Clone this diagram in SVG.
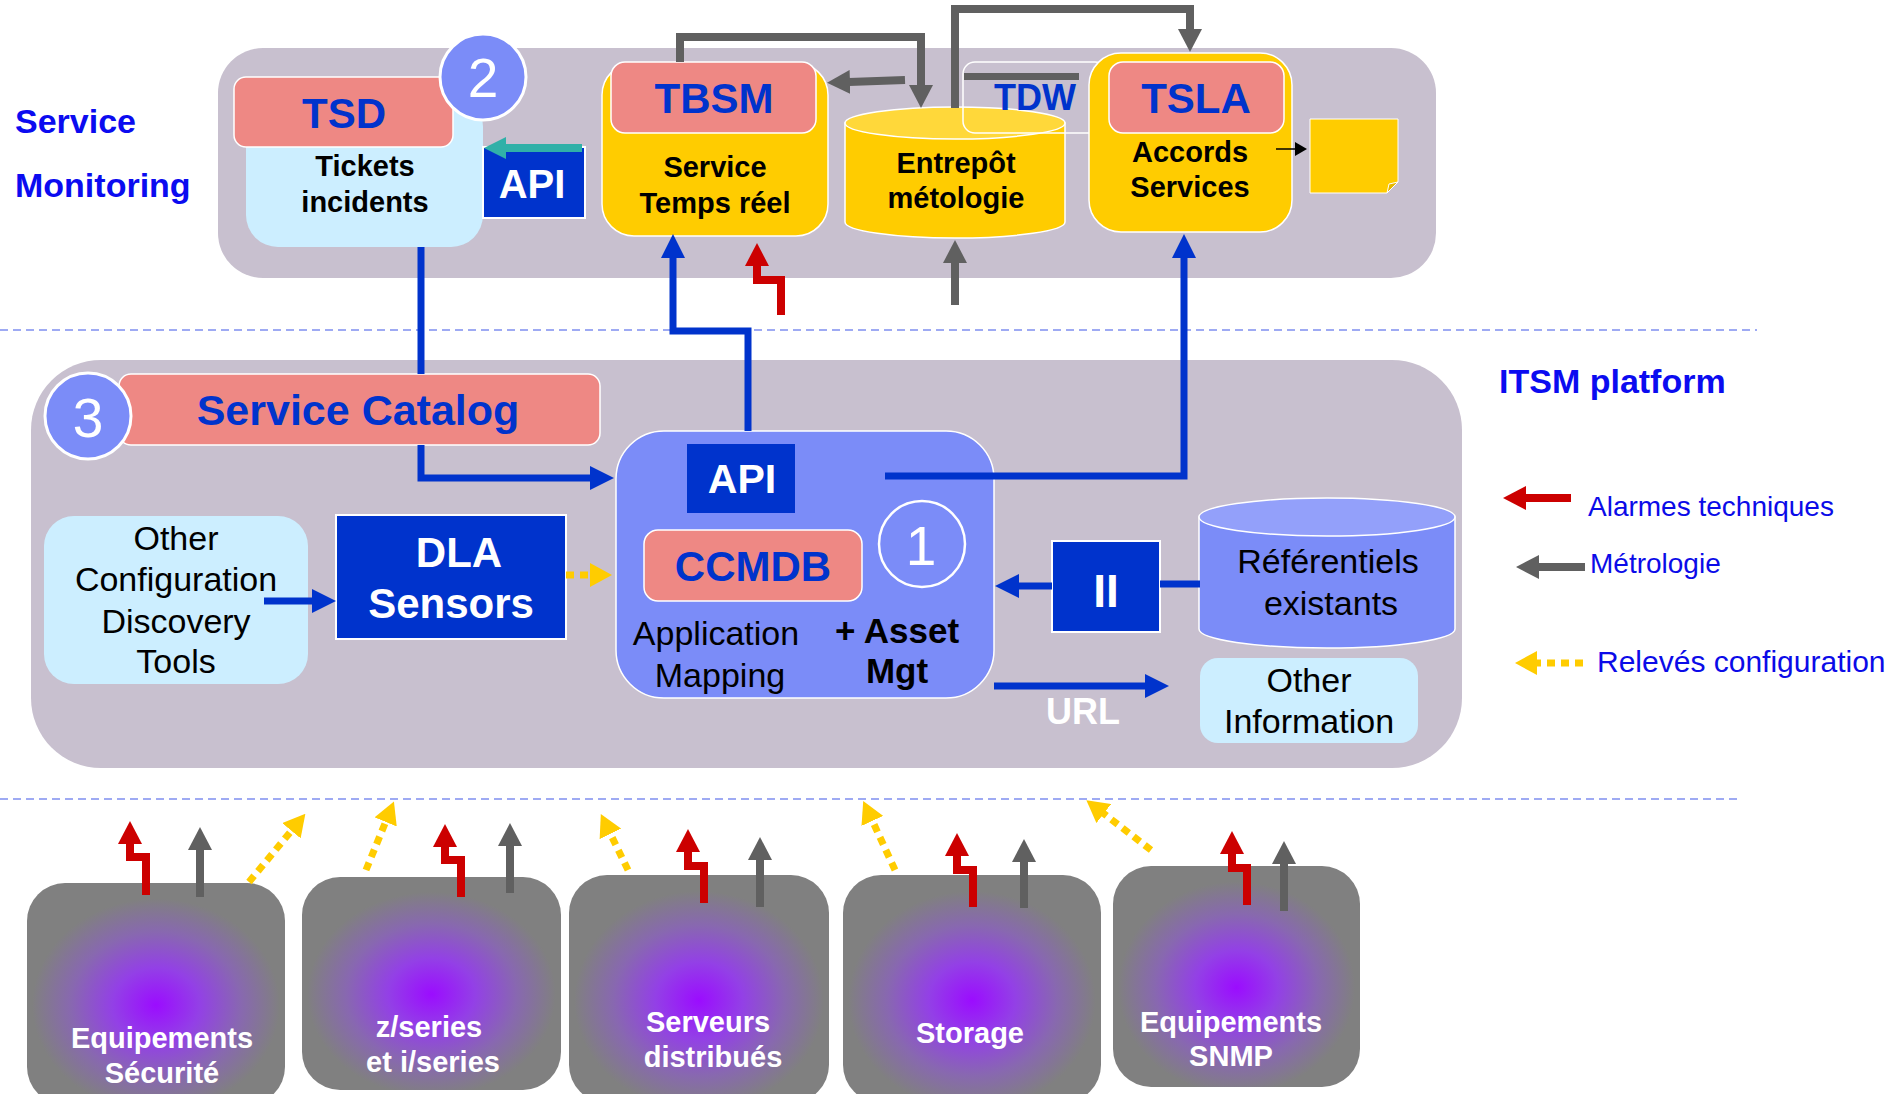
<svg xmlns="http://www.w3.org/2000/svg" width="1887" height="1094" viewBox="0 0 1887 1094">
<defs>
<style>
text{font-family:"Liberation Sans",Arial,sans-serif;text-anchor:middle}
.panel{fill:#c8c0cf}
.pink{fill:#ee8884;stroke:#fff;stroke-width:1.5}
.lb{fill:#cceeff}
.db{fill:#0033cc;stroke:#fff;stroke-width:2}
.yel{fill:#ffcc00;stroke:#fff;stroke-width:1.5}
.peri{fill:#7b8cf8;stroke:#fff;stroke-width:1.5}
.circ{fill:#7b8cf8;stroke:#fff;stroke-width:3}
.hdr{font-weight:bold;font-size:42px;fill:#0033cc}
.bk{font-weight:bold;font-size:29px;fill:#000}
.reg{font-size:34px;fill:#000}
.wb{font-weight:bold;fill:#fff}
.num{font-size:55px;fill:#fff}
.dev{fill:url(#devgrad)}
.devt{font-weight:bold;font-size:29px;fill:#fff}
.side{font-weight:bold;font-size:34px;fill:#0b0bf0;text-anchor:start}
.leg{font-size:28px;fill:#0b0be8;text-anchor:start}
.blue{fill:none;stroke:#0033cc;stroke-width:7}
.gray{fill:none;stroke:#606060;stroke-width:8}
.red{fill:none;stroke:#cc0000;stroke-width:8}
.yd{fill:none;stroke:#ffcc00;stroke-width:7;stroke-dasharray:8 6}
.dash{stroke:#7f8ff0;stroke-width:1.5;stroke-dasharray:8 5}
</style>
<radialGradient id="devgrad" cx="0.5" cy="0.55" r="0.6">
<stop offset="0" stop-color="#9b0cff"/>
<stop offset="0.28" stop-color="#9340e6"/>
<stop offset="0.55" stop-color="#8868b0"/>
<stop offset="0.8" stop-color="#808080"/>
<stop offset="1" stop-color="#808080"/>
</radialGradient>
<marker id="mBlue" markerUnits="userSpaceOnUse" markerWidth="24" markerHeight="24" refX="1" refY="12" orient="auto"><path d="M0,0 L24,12 L0,24 z" fill="#0033cc"/></marker>
<marker id="mGray" markerUnits="userSpaceOnUse" markerWidth="23" markerHeight="24" refX="1" refY="12" orient="auto"><path d="M0,0 L23,12 L0,24 z" fill="#606060"/></marker>
<marker id="mRed" markerUnits="userSpaceOnUse" markerWidth="23" markerHeight="24" refX="1" refY="12" orient="auto"><path d="M0,0 L23,12 L0,24 z" fill="#cc0000"/></marker>
<marker id="mYel" markerUnits="userSpaceOnUse" markerWidth="22" markerHeight="24" refX="1" refY="12" orient="auto"><path d="M0,0 L22,12 L0,24 z" fill="#ffcc00"/></marker>
<marker id="mTeal" markerUnits="userSpaceOnUse" markerWidth="22" markerHeight="22" refX="1" refY="11" orient="auto"><path d="M0,0 L22,11 L0,22 z" fill="#30b0a8"/></marker>
<marker id="mBlack" markerUnits="userSpaceOnUse" markerWidth="12" markerHeight="14" refX="1" refY="7" orient="auto"><path d="M0,0 L12,7 L0,14 z" fill="#000"/></marker>
</defs>
<rect width="1887" height="1094" fill="#fff"/>

<!-- separators -->
<g id="separators">
<line class="dash" x1="0" y1="330" x2="1757" y2="330"/>
<line class="dash" x1="0" y1="799" x2="1741" y2="799"/>
</g>

<!-- panels -->
<g id="service-monitoring-panel">
<rect class="panel" x="218" y="48" width="1218" height="230" rx="45"/>
<text class="side" x="15" y="133">Service</text>
<text class="side" x="15" y="197">Monitoring</text>
</g>
<g id="itsm-platform-panel">
<rect class="panel" x="31" y="360" width="1431" height="408" rx="70"/>
<text class="side" x="1499" y="393">ITSM platform</text>
</g>

<!-- top nodes -->
<g id="tsd">
<rect class="lb" x="246" y="95" width="237" height="152" rx="32"/>
<rect class="pink" x="234" y="77" width="219" height="70" rx="12"/>
<text class="hdr" x="344" y="128">TSD</text>
<text class="bk" x="365" y="176">Tickets</text>
<text class="bk" x="365" y="212">incidents</text>
</g>
<g id="badge-2">
<circle class="circ" cx="483" cy="77" r="43"/>
<text class="num" x="483" y="97">2</text>
</g>
<g id="tsd-api">
<rect class="db" x="483" y="147" width="102" height="71"/>
<text class="wb" x="532" y="198" style="font-size:40px">API</text>
</g>
<g id="tbsm">
<rect class="yel" x="602" y="63" width="226" height="173" rx="32"/>
<rect class="pink" x="611" y="62" width="205" height="71" rx="14"/>
<text class="hdr" x="714" y="113">TBSM</text>
<text class="bk" x="715" y="177">Service</text>
<text class="bk" x="715" y="213">Temps réel</text>
</g>
<g id="entrepot">
<path d="M845,123 V222 A110,16 0 0 0 1065,222 V123 z" fill="#ffcc00" stroke="#fff" stroke-width="1.5"/>
<ellipse cx="955" cy="123" rx="110" ry="16" fill="#ffd83a" stroke="#fff" stroke-width="1.5"/>
<text class="bk" x="956" y="173">Entrepôt</text>
<text class="bk" x="956" y="208">métologie</text>
</g>
<g id="tdw">
<rect x="963" y="62" width="144" height="71" rx="12" fill="none" stroke="#fff" stroke-width="1.5"/>
<rect x="964" y="73" width="115" height="7" fill="#606060"/>
<text class="hdr" x="1035" y="110" style="font-size:36px">TDW</text>
</g>
<g id="tsla">
<rect class="yel" x="1089" y="53" width="203" height="179" rx="32"/>
<rect class="pink" x="1109" y="62" width="175" height="71" rx="14"/>
<text class="hdr" x="1196" y="113">TSLA</text>
<text class="bk" x="1190" y="162">Accords</text>
<text class="bk" x="1190" y="197">Services</text>
</g>
<g id="report-note">
<path d="M1310,119 H1398 V182 L1387,193 H1310 z" fill="#ffcc00" stroke="#fff" stroke-width="1"/>
<path d="M1398,182 L1389,184 L1387,193 z" fill="#e6b800" stroke="#fff" stroke-width="1"/>
</g>

<!-- middle nodes -->
<g id="service-catalog">
<rect class="pink" x="119" y="374" width="481" height="71" rx="12"/>
<text class="hdr" x="358" y="425" style="font-size:43px">Service Catalog</text>
</g>
<g id="badge-3">
<circle class="circ" cx="88" cy="416" r="43"/>
<text class="num" x="88" y="437">3</text>
</g>
<g id="other-discovery">
<rect class="lb" x="44" y="516" width="264" height="168" rx="30"/>
<text class="reg" x="176" y="550">Other</text>
<text class="reg" x="176" y="591">Configuration</text>
<text class="reg" x="176" y="633">Discovery</text>
<text class="reg" x="176" y="673">Tools</text>
</g>
<g id="dla-sensors">
<rect class="db" x="336" y="515" width="230" height="124"/>
<text class="wb" x="459" y="567" style="font-size:42px">DLA</text>
<text class="wb" x="451" y="618" style="font-size:42px">Sensors</text>
</g>
<g id="ccmdb">
<rect class="peri" x="616" y="431" width="378" height="267" rx="48"/>
<rect x="687" y="444" width="108" height="69" fill="#0033cc"/>
<text class="wb" x="742" y="493" style="font-size:41px">API</text>
<rect class="pink" x="644" y="530" width="218" height="71" rx="14"/>
<text class="hdr" x="753" y="581">CCMDB</text>
<text class="reg" x="716" y="645">Application</text>
<text class="reg" x="720" y="687">Mapping</text>
<text class="bk" x="897" y="643" style="font-size:35px">+ Asset</text>
<text class="bk" x="897" y="683" style="font-size:35px">Mgt</text>
</g>
<g id="badge-1">
<circle cx="922" cy="544" r="43" fill="none" stroke="#fff" stroke-width="2.5"/>
<text class="num" x="921" y="565">1</text>
</g>
<g id="ii">
<rect class="db" x="1052" y="541" width="108" height="91"/>
<text class="wb" x="1106" y="607" style="font-size:46px">II</text>
</g>
<g id="referentiels">
<path d="M1199,517 V629 A128,19 0 0 0 1455,629 V517 z" fill="#7b8cf8" stroke="#fff" stroke-width="1.5"/>
<ellipse cx="1327" cy="517" rx="128" ry="19" fill="#93a0fa" stroke="#fff" stroke-width="1.5"/>
<text class="reg" x="1328" y="573">Référentiels</text>
<text class="reg" x="1331" y="615">existants</text>
</g>
<g id="other-information">
<rect class="lb" x="1200" y="658" width="218" height="85" rx="18"/>
<text class="reg" x="1309" y="692">Other</text>
<text class="reg" x="1309" y="733">Information</text>
</g>
<g id="url-label">
<text class="wb" x="1083" y="724" style="font-size:36px">URL</text>
</g>

<!-- bottom devices -->
<g id="dev-securite">
<rect class="dev" x="27" y="883" width="258" height="222" rx="38"/>
<text class="devt" x="162" y="1048">Equipements</text>
<text class="devt" x="162" y="1083">Sécurité</text>
</g>
<g id="dev-series">
<rect class="dev" x="302" y="877" width="259" height="213" rx="38"/>
<text class="devt" x="429" y="1037">z/series</text>
<text class="devt" x="433" y="1072">et i/series</text>
</g>
<g id="dev-serveurs">
<rect class="dev" x="569" y="875" width="260" height="228" rx="38"/>
<text class="devt" x="708" y="1032">Serveurs</text>
<text class="devt" x="713" y="1067">distribués</text>
</g>
<g id="dev-storage">
<rect class="dev" x="843" y="875" width="258" height="228" rx="38"/>
<text class="devt" x="970" y="1043">Storage</text>
</g>
<g id="dev-snmp">
<rect class="dev" x="1113" y="866" width="247" height="221" rx="38"/>
<text class="devt" x="1231" y="1032">Equipements</text>
<text class="devt" x="1231" y="1066">SNMP</text>
</g>

<!-- legend -->
<g id="legend">
<path class="red" d="M1571,498 H1525" marker-end="url(#mRed)"/>
<text class="leg" x="1588" y="516">Alarmes techniques</text>
<path class="gray" d="M1585,567 H1538" marker-end="url(#mGray)"/>
<text class="leg" x="1590" y="573">Métrologie</text>
<path class="yd" d="M1583,663 H1536" marker-end="url(#mYel)"/>
<text class="leg" x="1597" y="672" style="font-size:30px">Relevés configuration</text>
</g>

<!-- connectors -->
<g id="connectors">
<path class="blue" d="M421,247 V374"/>
<path class="blue" d="M421,445 V478 H591" marker-end="url(#mBlue)"/>
<path class="blue" d="M748,431 V331 H673 V257" marker-end="url(#mBlue)"/>
<path class="blue" d="M885,476 H1184 V257" marker-end="url(#mBlue)"/>
<path class="blue" d="M264,601 H313" marker-end="url(#mBlue)"/>
<path class="blue" d="M1052,586 H1018" marker-end="url(#mBlue)"/>
<path class="blue" d="M1160,584 H1200"/>
<path class="blue" d="M994,686 H1146" marker-end="url(#mBlue)"/>
<path d="M582,148 H505" fill="none" stroke="#30b0a8" stroke-width="8" marker-end="url(#mTeal)"/>
<path d="M1276,149 H1296" fill="none" stroke="#000" stroke-width="1.5" marker-end="url(#mBlack)"/>
<path class="gray" d="M680,62 V37 H921 V86" marker-end="url(#mGray)"/>
<path class="gray" d="M955,108 V9 H1190 V30" marker-end="url(#mGray)"/>
<path class="gray" d="M905,80 L849,82" marker-end="url(#mGray)"/>
<path class="gray" d="M955,305 V262" marker-end="url(#mGray)"/>
<path class="red" d="M781,315 V280 H757 V265" marker-end="url(#mRed)"/>
<path class="yd" d="M566,575 H591" marker-end="url(#mYel)"/>
<path class="red" d="M146,895 V857 H130 V843" marker-end="url(#mRed)"/>
<path class="gray" d="M200,897 V849" marker-end="url(#mGray)"/>
<path class="yd" d="M249,882 L292,830" marker-end="url(#mYel)"/>
<path class="red" d="M461,897 V860 H445 V846" marker-end="url(#mRed)"/>
<path class="gray" d="M510,893 V845" marker-end="url(#mGray)"/>
<path class="yd" d="M366,870 L386,821" marker-end="url(#mYel)"/>
<path class="red" d="M704,903 V866 H688 V851" marker-end="url(#mRed)"/>
<path class="gray" d="M760,907 V859" marker-end="url(#mGray)"/>
<path class="yd" d="M628,870 L610,833" marker-end="url(#mYel)"/>
<path class="red" d="M973,907 V870 H957 V855" marker-end="url(#mRed)"/>
<path class="gray" d="M1024,908 V861" marker-end="url(#mGray)"/>
<path class="yd" d="M895,870 L872,820" marker-end="url(#mYel)"/>
<path class="red" d="M1247,905 V868 H1232 V853" marker-end="url(#mRed)"/>
<path class="gray" d="M1284,911 V863" marker-end="url(#mGray)"/>
<path class="yd" d="M1151,850 L1103,813" marker-end="url(#mYel)"/>
</g>
</svg>
